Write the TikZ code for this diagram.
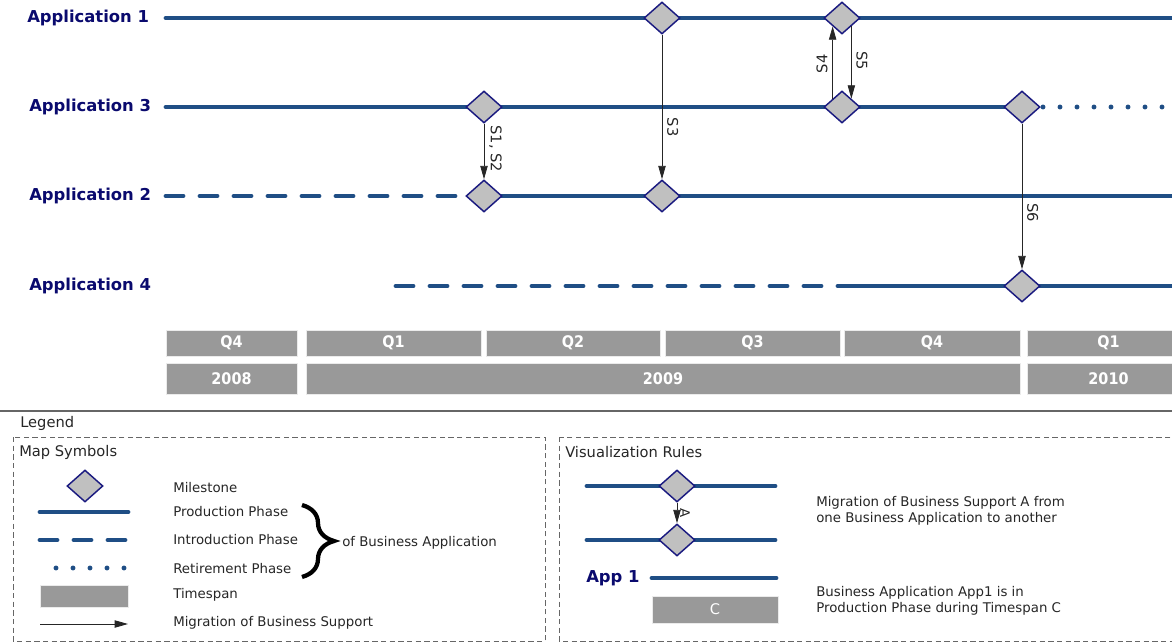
\documentclass[tikz,border=0pt]{standalone}
\usepackage{fontspec}
\setmainfont{DejaVu Sans}
\newfontfamily\narrowfont{DejaVu Sans Condensed}
\usepackage{xcolor}
\definecolor{appblue}{HTML}{1F4E85}
\definecolor{appnavy}{HTML}{0A0A6E}
\definecolor{msfill}{HTML}{C0C0C0}
\definecolor{msborder}{HTML}{1A1A80}
\definecolor{spangray}{HTML}{999999}
\definecolor{legendgray}{HTML}{262626}
\usetikzlibrary{positioning,shapes,arrows.meta,decorations.pathreplacing}
\pgfdeclarelayer{background}
\pgfsetlayers{background,main}
\newcommand{\spannode}[6]{
\node (#1) [timespan, minimum width={(#4-#2)*0.75pt}, minimum height={(#5-#3)*0.75pt}]
  at ({(#2+#4)/2},{(#3+#5)/2}) {#6};}
\tikzstyle{appname}=[font=\fontsize{12.3}{14}\selectfont\bfseries, text=appnavy, inner sep=0pt, anchor=west]
\tikzstyle{milestone}=[diamond, draw=msborder, fill=msfill, line width=1.1pt, inner sep=0pt,
        minimum width=27pt, minimum height=24pt]
\tikzstyle{phase}=[draw=appblue, line width=3.7pt, line cap=round]
\tikzstyle{production}=[phase]
\tikzstyle{introduction}=[phase, dash pattern=on 12.75pt off 12.75pt]
\tikzstyle{retirement}=[phase, dash pattern=on 0pt off 12.75pt]
\tikzstyle{timespan}=[rectangle, fill=spangray, draw=white!92!black, line width=0.6pt, text=white,
        font=\narrowfont\fontsize{12}{14}\selectfont\bfseries, inner sep=0pt]
\tikzstyle{migration}=[draw=black!85, line width=0.6pt, -{Triangle[length=10pt,width=5.5pt]}]
\tikzstyle{sname}=[font=\fontsize{11}{13}\selectfont, text=black!85, rotate=-90, anchor=south, inner sep=3.5pt]
\tikzstyle{legendtext}=[font=\fontsize{10}{12}\selectfont, text=legendgray, anchor=west, inner sep=0pt]
\tikzstyle{legendhead}=[legendtext, font=\fontsize{11}{13}\selectfont]
\tikzstyle{legendbox}=[draw=black!60, line width=0.6pt, dash pattern=on 4pt off 2.5pt]

\begin{document}
\begin{tikzpicture}[x=0.75pt, y=-0.75pt]
\useasboundingbox (0,0) rectangle (1172,643);

% applications
\node (app1) [appname] at (27,18) {Application 1};
\node (app3) [appname] at (29,107) {Application 3};
\node (app2) [appname] at (29,196) {Application 2};
\node (app4) [appname] at (29,286) {Application 4};

\coordinate (a1s) at (166,18);   \coordinate (a1e) at (1185,18);
\coordinate (a3s) at (166,107);  \coordinate (a3d) at (1043,107); \coordinate (a3e) at (1185,107);
\coordinate (a2s) at (166,196);  \coordinate (a2e) at (1185,196);
\coordinate (a4s) at (396,286);  \coordinate (a4m) at (840,286);  \coordinate (a4e) at (1185,286);

% milestones
\node (m1a) [milestone] at (662,18) {};
\node (m1b) [milestone] at (842,18) {};
\node (m3a) [milestone] at (484,107) {};
\node (m3b) [milestone] at (842,107) {};
\node (m3c) [milestone] at (1022,107) {};
\node (m2a) [milestone] at (484,196) {};
\node (m2b) [milestone] at (662,196) {};
\node (m4a) [milestone] at (1022,286) {};

\begin{pgfonlayer}{background}
\draw[production] (a1s) -- (a1e);
\draw[production] (a3s) -- (m3c.center);
\draw[retirement] (a3d) -- (a3e);
\draw[introduction] (a2s) -- (m2a.west);
\draw[production] (m2a.center) -- (a2e);
\draw[introduction] (a4s) -- (a4m);
\draw[production] (a4m) -- (a4e);
\end{pgfonlayer}

% migrations
\draw[migration] (m3a.south) -- node[sname, pos=0.45] {S1, S2} (m2a.north);
\draw[migration] (m1a.south) -- node[sname, pos=0.64] {S3} (m2b.north);
\draw[migration] (m3b.north west) -- node[sname, rotate=180, pos=0.48] {S4} (m1b.south west);
\draw[migration] (m1b.south east) -- node[sname, pos=0.47] {S5} (m3b.north east);
\draw[migration] (m3c.south) -- node[sname, pos=0.61] {S6} (m4a.north);

% timespans
\spannode{q408}{166}{330}{297}{356}{Q4}
\spannode{q109}{306}{330}{481}{356}{Q1}
\spannode{q209}{486}{330}{660}{356}{Q2}
\spannode{q309}{665}{330}{840}{356}{Q3}
\spannode{q409}{844}{330}{1020}{356}{Q4}
\spannode{q110}{1027}{330}{1190}{356}{Q1}
\spannode{y2008}{166}{363}{297}{394}{2008}
\spannode{y2009}{306}{363}{1020}{394}{2009}
\spannode{y2010}{1027}{363}{1190}{394}{2010}

% legend
\draw[black!60, line width=1.5pt] (0,411) -- (1172,411);
\node (legend) [legendhead] at (20,423) {Legend};
\draw[legendbox] (13,437) rectangle (545,641);
\draw[legendbox] (559,437) rectangle (1185,641);
\node (mapsym) [legendhead] at (19,452) {Map Symbols};
\node (visrules) [legendhead] at (565,452) {Visualization Rules};

\node (lmile) [milestone] at (85,486) {};
\draw[production] (40,512) -- (128,512);
\draw[introduction] (40,540) -- (128,540);
\draw[retirement] (56,568) -- (126,568);
\node (lspan) [timespan, minimum width=66pt, minimum height=16.5pt] at (84,596) {};
\draw[migration] (40,624) -- (128,624);
\node (tmile) [legendtext] at (173,488) {Milestone};
\node (tprod) [legendtext] at (173,512) {Production Phase};
\node (tintro) [legendtext] at (173,540) {Introduction Phase};
\node (tretire) [legendtext] at (173,569) {Retirement Phase};
\node (tspan) [legendtext] at (173,595) {Timespan};
\node (tmig) [legendtext] at (173,623) {Migration of Business Support};
\coordinate (brt) at (302,505);
\coordinate (brb) at (302,577);
\draw[black, line width=3.2pt, decorate, decoration={brace, amplitude=24pt}] (brt) -- (brb);
\node (tphase) [legendtext] at (342,543) {of Business Application};

\node (vm1) [milestone] at (677,486) {};
\node (vm2) [milestone] at (677,540) {};
\begin{pgfonlayer}{background}
\draw[production] (587,486) -- (775,486);
\draw[production] (587,540) -- (775,540);
\end{pgfonlayer}
\draw[migration] (vm1.south) -- node[sname, font=\fontsize{10}{12}\selectfont, inner sep=2pt, pos=0.5] {A} (vm2.north);
\node (vapp) [appname, anchor=west] at (586,578) {App 1};
\draw[production] (652,578) -- (776,578);
\spannode{vspan}{652}{596}{778}{623}{\normalfont\fontsize{11}{13}\selectfont C}
\node (tvmig) [legendtext, align=left] at (816,511) {Migration of Business Support A from\\one Business Application to another};
\node (tvspan) [legendtext, align=left] at (816,601) {Business Application App1 is in\\Production Phase during Timespan C};

\end{tikzpicture}
\end{document}
